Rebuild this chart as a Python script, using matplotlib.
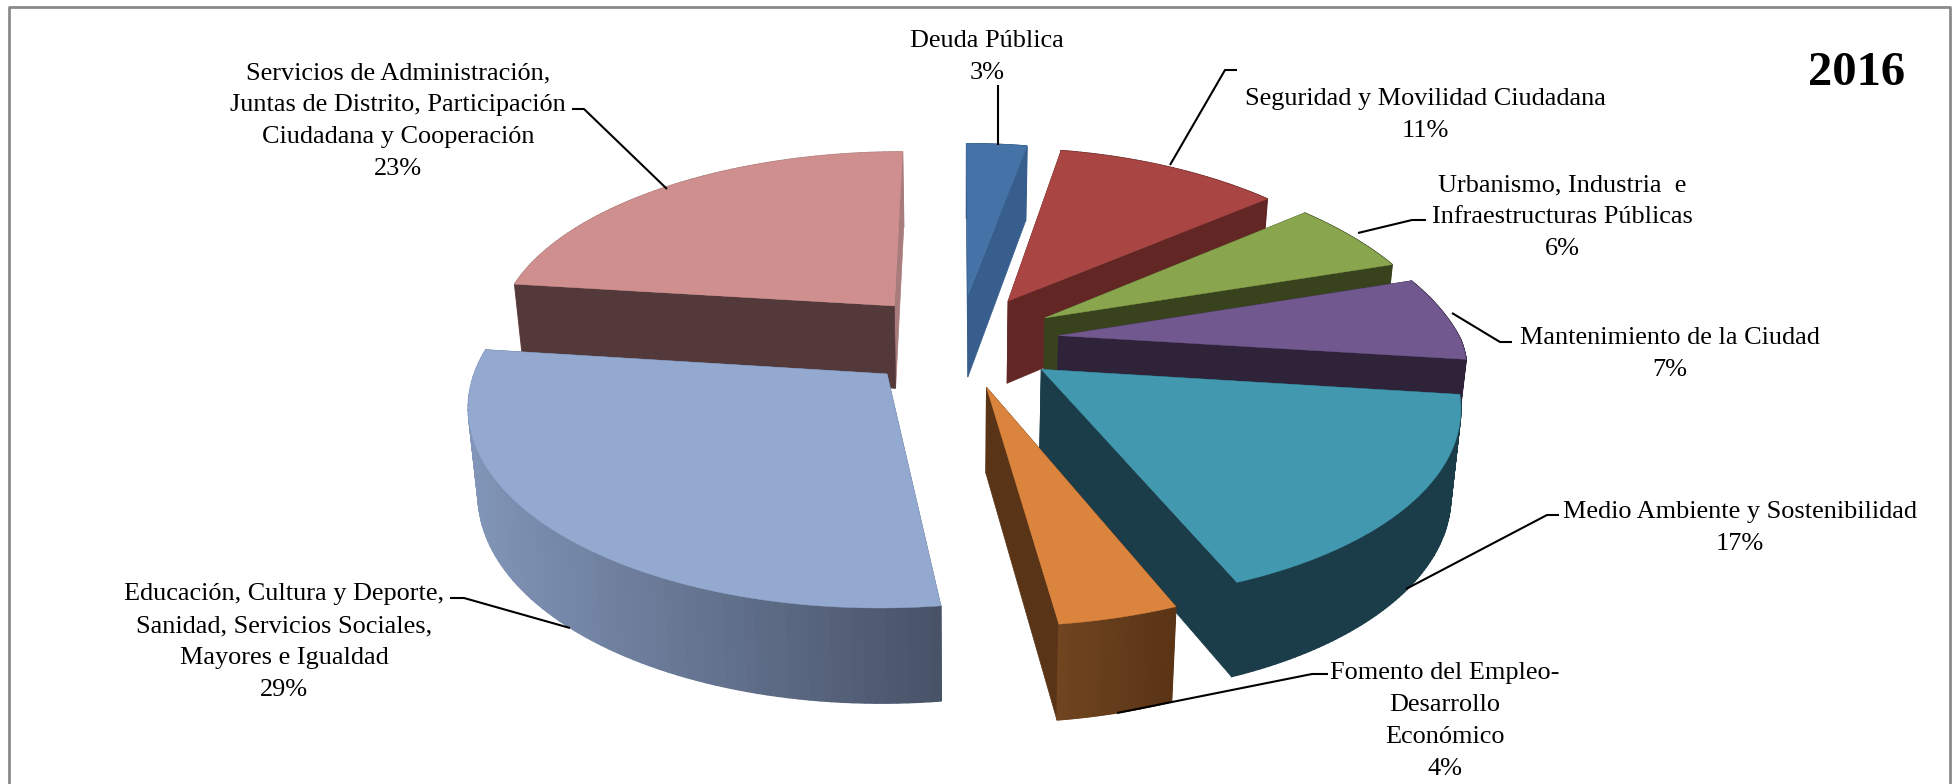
import numpy as np
import matplotlib
matplotlib.use("Agg")
import matplotlib.pyplot as plt
from matplotlib.collections import PolyCollection
from matplotlib.colors import to_rgb

# Shares of the 2016 budget, clockwise from 12 o'clock
labels = [
    "Deuda Pública",
    "Seguridad y Movilidad Ciudadana",
    "Urbanismo, Industria  e\nInfraestructuras Públicas",
    "Mantenimiento de la Ciudad",
    "Medio Ambiente y Sostenibilidad",
    "Fomento del Empleo-\nDesarrollo\nEconómico",
    "Educación, Cultura y Deporte,\nSanidad, Servicios Sociales,\nMayores e Igualdad",
    "Servicios de Administración,\nJuntas de Distrito, Participación\nCiudadana y Cooperación",
]
shares = [3, 11, 6, 7, 17, 4, 29, 23]

top_colors = ["#4573A7", "#A94543", "#89A54E", "#71588F", "#4198AF", "#DB843D", "#93A9CF", "#CF8F8E"]
cut_colors = ["#375E8C", "#622725", "#38431E", "#2E2339", "#1B3C49", "#5A3416", "#5A6A85", "#53393A"]
end_cut_colors = ["#375E8C", "#622725", "#38431E", "#2E2339", "#1B3C49", "#5A3416", "#5A6A85", "#A87C7C"]
rim_left = ["#375E8C", "#622725", "#38431E", "#2E2339", "#1B3C49", "#704520", "#8195B8", "#A87C7C"]
rim_right = ["#375E8C", "#622725", "#38431E", "#2E2339", "#1B3C49", "#5A3416", "#485368", "#A87C7C"]

# label centres and leader lines, in pixels
label_pos = [(987, 57), (1425, 115), (1562, 217), (1670, 354), (1740, 528), (1445, 721), (284, 642), (398, 121)]
leaders = [
    [(998, 85), (998, 145)],
    [(1237, 70), (1225, 70), (1170, 165)],
    [(1426, 220), (1412, 220), (1358, 233)],
    [(1512, 342), (1500, 342), (1452, 313)],
    [(1559, 515), (1547, 515), (1406, 589)],
    [(1328, 674), (1312, 674), (1117, 713)],
    [(450, 598), (464, 598), (570, 628)],
    [(572, 109), (584, 109), (667, 189)],
]

# fake perspective of the pie plane
cx, cy = 959, 340
rx, ry = 402, 187
ky = 0.152
lean = 6
depth, kd, shrink = 84, 0.1, 0.98
explode = 0.25


def project(u, v, down=False):
    # back right quarter recedes a bit faster than the rest
    kx = np.where((u > 0) & (v > 0), 0.2, 0.15)
    x = cx + rx * u / (1 + kx * v) - lean * np.minimum(v, 0)
    y = cy - ry * v / (1 + ky * v)
    if down:
        x = cx + (x - cx) * shrink
        y = y + depth / (1 + kd * v)
    return np.column_stack([x, y])


fig = plt.figure(figsize=(19.56, 7.84), dpi=100)
ax = fig.add_axes([0, 0, 1, 1])
ax.set_xlim(0, 1956)
ax.set_ylim(784, 0)
ax.axis("off")

# frame runs off the bottom of the picture
ax.plot([9, 9, 1950, 1950], [790, 7, 7, 790], color="#8A8A8A", lw=2)

edges = np.radians(np.cumsum([0] + shares) * 3.6)
mids = (edges[:-1] + edges[1:]) / 2

# far slices first
for i in np.argsort(-np.cos(mids)):
    th = np.linspace(edges[i], edges[i + 1], 80)
    ox, oy = explode * np.sin(mids[i]), explode * np.cos(mids[i])
    u = np.sin(th) + ox
    v = np.cos(th) + oy
    rim_top = project(u, v)
    rim_bot = project(u, v, down=True)
    apex_top = project(np.array([ox]), np.array([oy]))
    apex_bot = project(np.array([ox]), np.array([oy]), down=True)
    start_cut = np.vstack([apex_top, rim_top[:1], rim_bot[:1], apex_bot])
    end_cut = np.vstack([apex_top, rim_top[-1:], rim_bot[-1:], apex_bot])

    ax.fill(*end_cut.T, color=end_cut_colors[i], lw=0.5, zorder=1)
    if v[0] < 0:
        ax.fill(*start_cut.T, color=cut_colors[i], lw=0.5, zorder=1)

    # outer wall, shaded by screen position
    quads = [np.vstack([rim_top[j], rim_top[j + 1], rim_bot[j + 1], rim_bot[j]]) for j in range(len(th) - 1)]
    t = (rim_top[:-1, 0] - rim_top[:, 0].min()) / np.ptp(rim_top[:, 0])
    c0, c1 = np.array(to_rgb(rim_left[i])), np.array(to_rgb(rim_right[i]))
    cols = [c0 + (c1 - c0) * a for a in t]
    ax.add_collection(PolyCollection(quads, facecolors=cols, edgecolors=cols, linewidths=1.0, zorder=1))

    # a cut starting on the far side sits in front of its own wall
    if v[0] >= 0:
        ax.fill(*start_cut.T, color=cut_colors[i], lw=0.5, zorder=1)

    ax.fill(*np.vstack([apex_top, rim_top]).T, color=top_colors[i], lw=0.3, zorder=1)

for line in leaders:
    xs, ys = zip(*line)
    ax.plot(xs, ys, color="black", lw=1.5, solid_capstyle="butt", zorder=5)

font = ["Liberation Serif", "DejaVu Serif"]
for name, share, (x, y) in zip(labels, shares, label_pos):
    ax.text(x, y, f"{name}\n{share}%", ha="center", va="center", family=font,
            fontsize=18.9, linespacing=1.58, color="black", zorder=6)

ax.text(1857, 73, "2016", ha="center", va="center", family=font, fontsize=35, fontweight="bold", zorder=6)

fig.savefig("out.png", dpi=100)
